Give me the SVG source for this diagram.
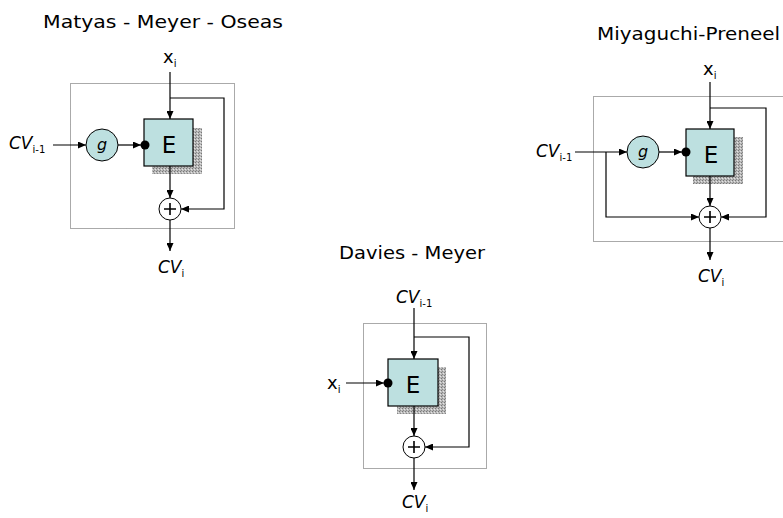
<svg xmlns="http://www.w3.org/2000/svg" width="783" height="518" viewBox="0 0 783 518">
<style>
text{font-family:"DejaVu Sans","Noto Sans",sans-serif;fill:#000}
.title{font-size:18px}
.cv{font-size:17px;font-style:italic}
.sub{font-size:10px;font-style:normal}
.x{font-size:18px}
.e{font-size:23px}
.g{font-size:16px;font-style:italic}
.frame{fill:none;stroke:#555;stroke-width:1;stroke-dasharray:1 1}
.box{fill:#bde0e0;stroke:#000;stroke-width:1.2}
.shadow{fill:url(#stip)}
.circ{fill:#bde0e0;stroke:#000;stroke-width:1}
.xor{fill:#fff;stroke:#000;stroke-width:1}
.ln{fill:none;stroke:#000;stroke-width:1.6}
.arr{fill:none;stroke:#000;stroke-width:1.2;marker-end:url(#ah)}
</style>
<defs>
<marker id="ah" viewBox="0 0 8 7" refX="8" refY="3.5" markerWidth="8" markerHeight="7" markerUnits="userSpaceOnUse" orient="auto">
<path d="M0,0 L8,3.5 L0,7 z" fill="#000"/>
</marker>
<pattern id="stip" width="3" height="3" patternUnits="userSpaceOnUse">
<rect width="3" height="3" fill="#b8b8b8"/>
<rect x="0" y="0" width="1" height="1" fill="#777"/>
<rect x="2" y="1" width="1" height="1" fill="#e4e4e4"/>
<rect x="1" y="2" width="1" height="1" fill="#888"/>
</pattern>
</defs>

<!-- Matyas - Meyer - Oseas -->
<g id="mmo">
<text class="title" x="43" y="28" textLength="240" lengthAdjust="spacingAndGlyphs">Matyas - Meyer - Oseas</text>
<rect class="frame" x="70.5" y="83.5" width="164" height="145"/>
</g>
<g id="mmo-xi"><text class="x" x="163" y="63">x<tspan class="sub" dy="4">i</tspan></text></g>
<g id="mmo-cvin"><text class="cv" x="9" y="149">CV<tspan class="sub" dy="4">i-1</tspan></text></g>
<g id="mmo-g"><circle class="circ" cx="102" cy="145" r="16"/><text class="g" x="102" y="150" text-anchor="middle">g</text></g>
<g id="mmo-E"><rect class="shadow" x="152" y="128" width="50" height="46"/><rect class="box" x="144" y="119" width="49" height="47"/><text class="e" x="169" y="153" text-anchor="middle">E</text></g>
<g id="mmo-xor"><circle class="xor" cx="170" cy="209" r="11"/><path class="ln" d="M164,209 H176 M170,203 V215"/></g>
<g id="mmo-cvout"><text class="cv" x="158" y="273">CV<tspan class="sub" dy="4">i</tspan></text></g>

<!-- Miyaguchi-Preneel -->
<g id="mp">
<text class="title" x="597" y="40" textLength="183" lengthAdjust="spacingAndGlyphs">Miyaguchi-Preneel</text>
<rect class="frame" x="593.5" y="96.5" width="200" height="145"/>
</g>
<g id="mp-xi"><text class="x" x="703" y="75">x<tspan class="sub" dy="4">i</tspan></text></g>
<g id="mp-cvin"><text class="cv" x="536" y="157">CV<tspan class="sub" dy="4">i-1</tspan></text></g>
<g id="mp-g"><circle class="circ" cx="643" cy="152" r="16"/><text class="g" x="643" y="157" text-anchor="middle">g</text></g>
<g id="mp-E"><rect class="shadow" x="693" y="137" width="50" height="47"/><rect class="box" x="686" y="129" width="48" height="47"/><text class="e" x="711" y="163" text-anchor="middle">E</text></g>
<g id="mp-xor"><circle class="xor" cx="710" cy="217" r="11"/><path class="ln" d="M704,217 H716 M710,211 V223"/></g>
<g id="mp-cvout"><text class="cv" x="698" y="282">CV<tspan class="sub" dy="4">i</tspan></text></g>

<!-- Davies - Meyer -->
<g id="dm">
<text class="title" x="339" y="259" textLength="146" lengthAdjust="spacingAndGlyphs">Davies - Meyer</text>
<rect class="frame" x="363.5" y="323.5" width="123" height="145"/>
</g>
<g id="dm-cvin"><text class="cv" x="396" y="303">CV<tspan class="sub" dy="4">i-1</tspan></text></g>
<g id="dm-xi"><text class="x" x="327" y="389">x<tspan class="sub" dy="4">i</tspan></text></g>
<g id="dm-E"><rect class="shadow" x="397" y="367" width="49" height="47"/><rect class="box" x="388" y="359" width="50" height="47"/><text class="e" x="413" y="393" text-anchor="middle">E</text></g>
<g id="dm-xor"><circle class="xor" cx="414" cy="447" r="11"/><path class="ln" d="M408,447 H420 M414,441 V453"/></g>
<g id="dm-cvout"><text class="cv" x="402" y="508">CV<tspan class="sub" dy="4">i</tspan></text></g>

<g id="connectors">
<!-- MMO -->
<path class="arr" d="M170,72 V119"/>
<path class="arr" d="M170,98 H224 V209 H181"/>
<path class="arr" d="M53,145 H86"/>
<path class="arr" d="M118,145 H141"/>
<circle cx="145" cy="145" r="4.5" fill="#000"/>
<path class="arr" d="M170,166 V198"/>
<path class="arr" d="M170,220 V251"/>
<!-- MP -->
<path class="arr" d="M710,82 V129"/>
<path class="arr" d="M710,108 H766 V217 H721"/>
<path class="arr" d="M575,152 H627"/>
<path class="arr" d="M606,152 V217 H699"/>
<path class="arr" d="M659,152 H682"/>
<circle cx="686" cy="152" r="4.5" fill="#000"/>
<path class="arr" d="M710,176 V206"/>
<path class="arr" d="M710,228 V260"/>
<!-- DM -->
<path class="arr" d="M414,308 V359"/>
<path class="arr" d="M414,337 H469 V447 H425"/>
<path class="arr" d="M346,383 H384"/>
<circle cx="388" cy="383" r="4.5" fill="#000"/>
<path class="arr" d="M414,406 V436"/>
<path class="arr" d="M414,458 V490"/>
</g>
</svg>
